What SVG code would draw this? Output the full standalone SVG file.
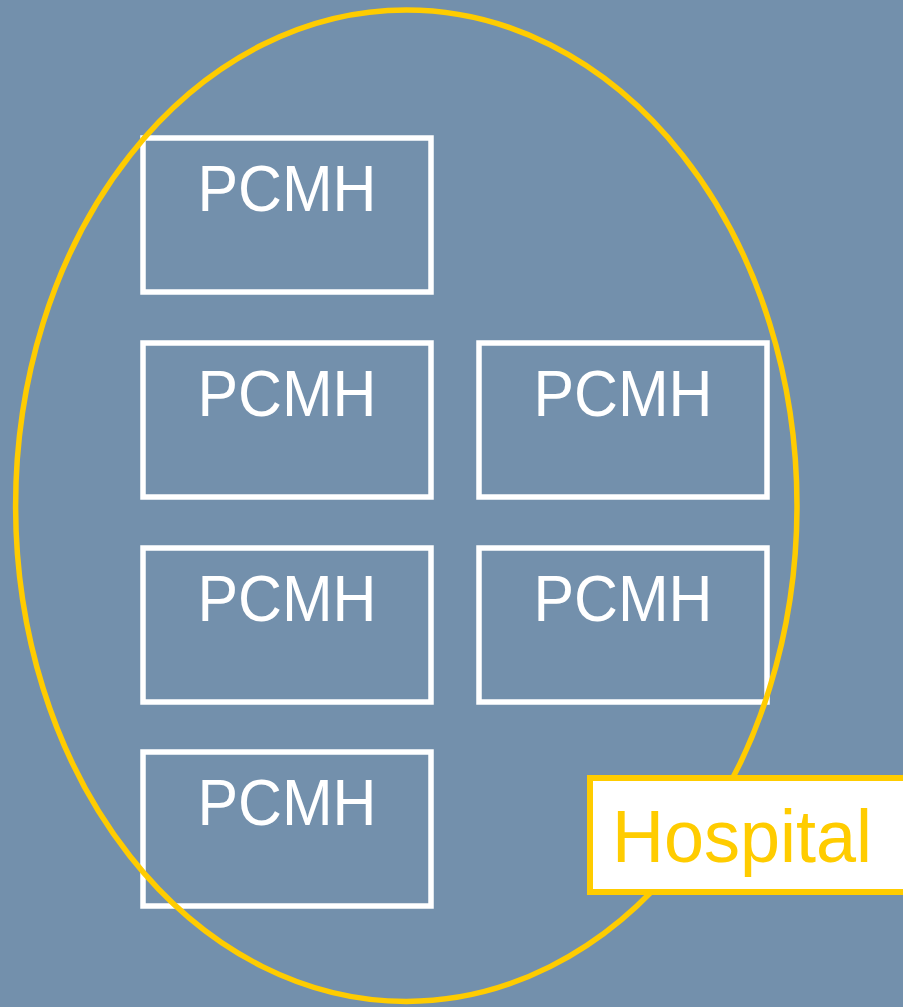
<svg xmlns="http://www.w3.org/2000/svg" width="903" height="1007" viewBox="0 0 903 1007">
<style>
.box{fill:none;stroke:#FFFFFF;stroke-width:5.5}
.lbl{font-family:"Liberation Sans",Arial,sans-serif;font-size:64px;fill:#FFFFFF;text-anchor:middle}
.hosp{font-family:"Liberation Sans",Arial,sans-serif;font-size:75px;fill:#FFCC00}
</style>
<rect x="0" y="0" width="903" height="1007" fill="#7390AC"/>
<g id="pcmh1"><rect class="box" x="143" y="138" width="288" height="154"/><text class="lbl" x="287" y="211" textLength="179" lengthAdjust="spacingAndGlyphs">PCMH</text></g>
<g id="pcmh2"><rect class="box" x="143" y="343" width="288" height="154"/><text class="lbl" x="287" y="416" textLength="179" lengthAdjust="spacingAndGlyphs">PCMH</text></g>
<g id="pcmh3"><rect class="box" x="479" y="343" width="288" height="154"/><text class="lbl" x="623" y="416" textLength="179" lengthAdjust="spacingAndGlyphs">PCMH</text></g>
<g id="pcmh4"><rect class="box" x="143" y="548" width="288" height="154"/><text class="lbl" x="287" y="621" textLength="179" lengthAdjust="spacingAndGlyphs">PCMH</text></g>
<g id="pcmh5"><rect class="box" x="479" y="548" width="288" height="154"/><text class="lbl" x="623" y="621" textLength="179" lengthAdjust="spacingAndGlyphs">PCMH</text></g>
<g id="pcmh6"><rect class="box" x="143" y="752" width="288" height="154"/><text class="lbl" x="287" y="825" textLength="179" lengthAdjust="spacingAndGlyphs">PCMH</text></g>
<g id="hospital-boundary"><ellipse cx="406.3" cy="505.7" rx="390.7" ry="495.7" fill="none" stroke="#FFCC00" stroke-width="5.5"/></g>
<g id="hospital"><rect x="590" y="778" width="330" height="114" fill="#FFFFFF" stroke="#FFCC00" stroke-width="6"/><text class="hosp" x="612" y="862" textLength="260" lengthAdjust="spacingAndGlyphs">Hospital</text></g>
<g id="connectors"></g>
</svg>
